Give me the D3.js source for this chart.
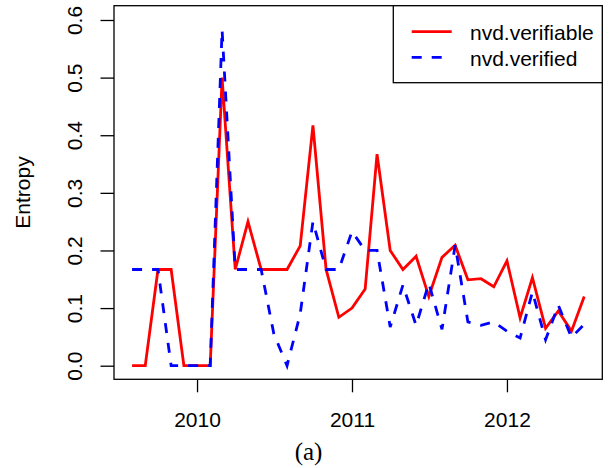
<!DOCTYPE html>
<html>
<head>
<meta charset="utf-8">
<script src="https://cdn.jsdelivr.net/npm/d3@7/dist/d3.min.js"></script>
<style>
  html, body { margin: 0; padding: 0; background: #fff; }
  svg { display: block; }
  text { font-family: "Liberation Sans", Arial, Helvetica, sans-serif; fill: #000; }
</style>
</head>
<body>
<script>
const months = ["2009-08","2009-09","2009-10","2009-11","2009-12",
  "2010-01","2010-02","2010-03","2010-04","2010-05","2010-06","2010-07","2010-08","2010-09","2010-10","2010-11","2010-12",
  "2011-01","2011-02","2011-03","2011-04","2011-05","2011-06","2011-07","2011-08","2011-09","2011-10","2011-11","2011-12",
  "2012-01","2012-02","2012-03","2012-04","2012-05","2012-06","2012-07"];
const verifiable = [0, 0, 0.167, 0.167, 0,
  0, 0, 0.5, 0.167, 0.25, 0.167, 0.167, 0.167, 0.208, 0.417, 0.167, 0.084,
  0.1, 0.133, 0.367, 0.2, 0.167, 0.19, 0.12, 0.188, 0.209, 0.149, 0.151, 0.137,
  0.182, 0.083, 0.153, 0.065, 0.095, 0.06, 0.12];
const verified = [0.167, 0.167, 0.167, 0, 0,
  0, 0, 0.583, 0.167, 0.167, 0.167, 0.055, 0, 0.09, 0.25, 0.167, 0.167,
  0.233, 0.2, 0.2, 0.067, 0.14, 0.07, 0.143, 0.063, 0.209, 0.076, 0.07, 0.076,
  0.06, 0.048, 0.128, 0.045, 0.105, 0.049, 0.072];
const seriesNames = ["nvd.verifiable", "nvd.verified"];
const yTicks = [0, 0.1, 0.2, 0.3, 0.4, 0.5, 0.6];
const xTickYears = ["2010", "2011", "2012"];

const W = 610, H = 468;
const L = 114, R = 602.3, T = 5.7, B = 379.3;

const parseM = d3.timeParse("%Y-%m");
const dates = months.map(parseM);
const t0 = +dates[0], t1 = +dates[dates.length - 1];
const ext = (t1 - t0) * 0.04;
const x = d3.scaleTime().domain([new Date(t0 - ext), new Date(t1 + ext)]).range([L, R]);
const y = d3.scaleLinear().domain([-0.0236, 0.6248]).range([B, T]);

const svg = d3.select("body").append("svg").attr("width", W).attr("height", H);
svg.append("rect").attr("width", W).attr("height", H).attr("fill", "#fff");

// x axis
const xAxis = d3.axisBottom(x)
  .tickValues(xTickYears.map(d => d3.timeParse("%Y")(d)))
  .tickFormat(d3.timeFormat("%Y"))
  .tickSize(13).tickSizeOuter(0);
const gx = svg.append("g").attr("transform", `translate(0,${B})`).call(xAxis);
gx.select(".domain").remove();
gx.selectAll(".tick line").attr("stroke", "#000").attr("stroke-width", 1.3);
gx.selectAll(".tick text").attr("font-size", 21).attr("font-family", "Liberation Sans, Arial, sans-serif")
  .attr("dy", null).attr("y", 47.4);

// y axis
const yAxis = d3.axisLeft(y).tickValues(yTicks).tickFormat(d3.format(".1f"))
  .tickSize(13.5).tickSizeOuter(0);
const gy = svg.append("g").attr("transform", `translate(${L},0)`).call(yAxis);
gy.select(".domain").remove();
gy.selectAll(".tick line").attr("stroke", "#000").attr("stroke-width", 1.3);
gy.selectAll(".tick text")
  .attr("font-size", 21).attr("font-family", "Liberation Sans, Arial, sans-serif")
  .attr("x", null).attr("dy", null)
  .attr("text-anchor", "middle")
  .attr("transform", "translate(-32.3,0) rotate(-90)");

// box
svg.append("rect").attr("x", L).attr("y", T).attr("width", R - L).attr("height", B - T)
  .attr("fill", "none").attr("stroke", "#000").attr("stroke-width", 1.3);

// y label
svg.append("text").attr("transform", `translate(29.5,${(T + B) / 2}) rotate(-90)`)
  .attr("text-anchor", "middle").attr("font-size", 21).text("Entropy");

// lines (red first, blue dashed drawn on top)
const line = d3.line().x((d, i) => x(dates[i])).y(d => y(d));
svg.append("path").datum(verifiable).attr("d", line)
  .attr("fill", "none").attr("stroke", "#ff0000").attr("stroke-width", 2.8);
svg.append("path").datum(verified).attr("d", line)
  .attr("fill", "none").attr("stroke", "#0000ff").attr("stroke-width", 2.8)
  .attr("stroke-dasharray", "10,10");

// legend
const lg = svg.append("g");
lg.append("rect").attr("x", 393.3).attr("y", T).attr("width", R - 393.3).attr("height", 82.7 - T)
  .attr("fill", "#fff").attr("stroke", "#000").attr("stroke-width", 1.3);
const legendItems = [
  {name: seriesNames[0], color: "#ff0000", dash: null, y: 31.7},
  {name: seriesNames[1], color: "#0000ff", dash: "10,10", y: 57.3}
];
legendItems.forEach(it => {
  lg.append("line").attr("x1", 411.7).attr("x2", 451.7).attr("y1", it.y).attr("y2", it.y)
    .attr("stroke", it.color).attr("stroke-width", 2.8)
    .attr("stroke-dasharray", it.dash);
  lg.append("text").attr("x", 470).attr("y", it.y + 8.5).attr("font-size", 21).text(it.name);
});

// caption
svg.append("text").attr("x", 308.5).attr("y", 460).attr("text-anchor", "middle")
  .attr("font-size", 25).style("font-family", "'Liberation Serif', 'DejaVu Serif', serif")
  .text("(a)");
</script>
</body>
</html>
